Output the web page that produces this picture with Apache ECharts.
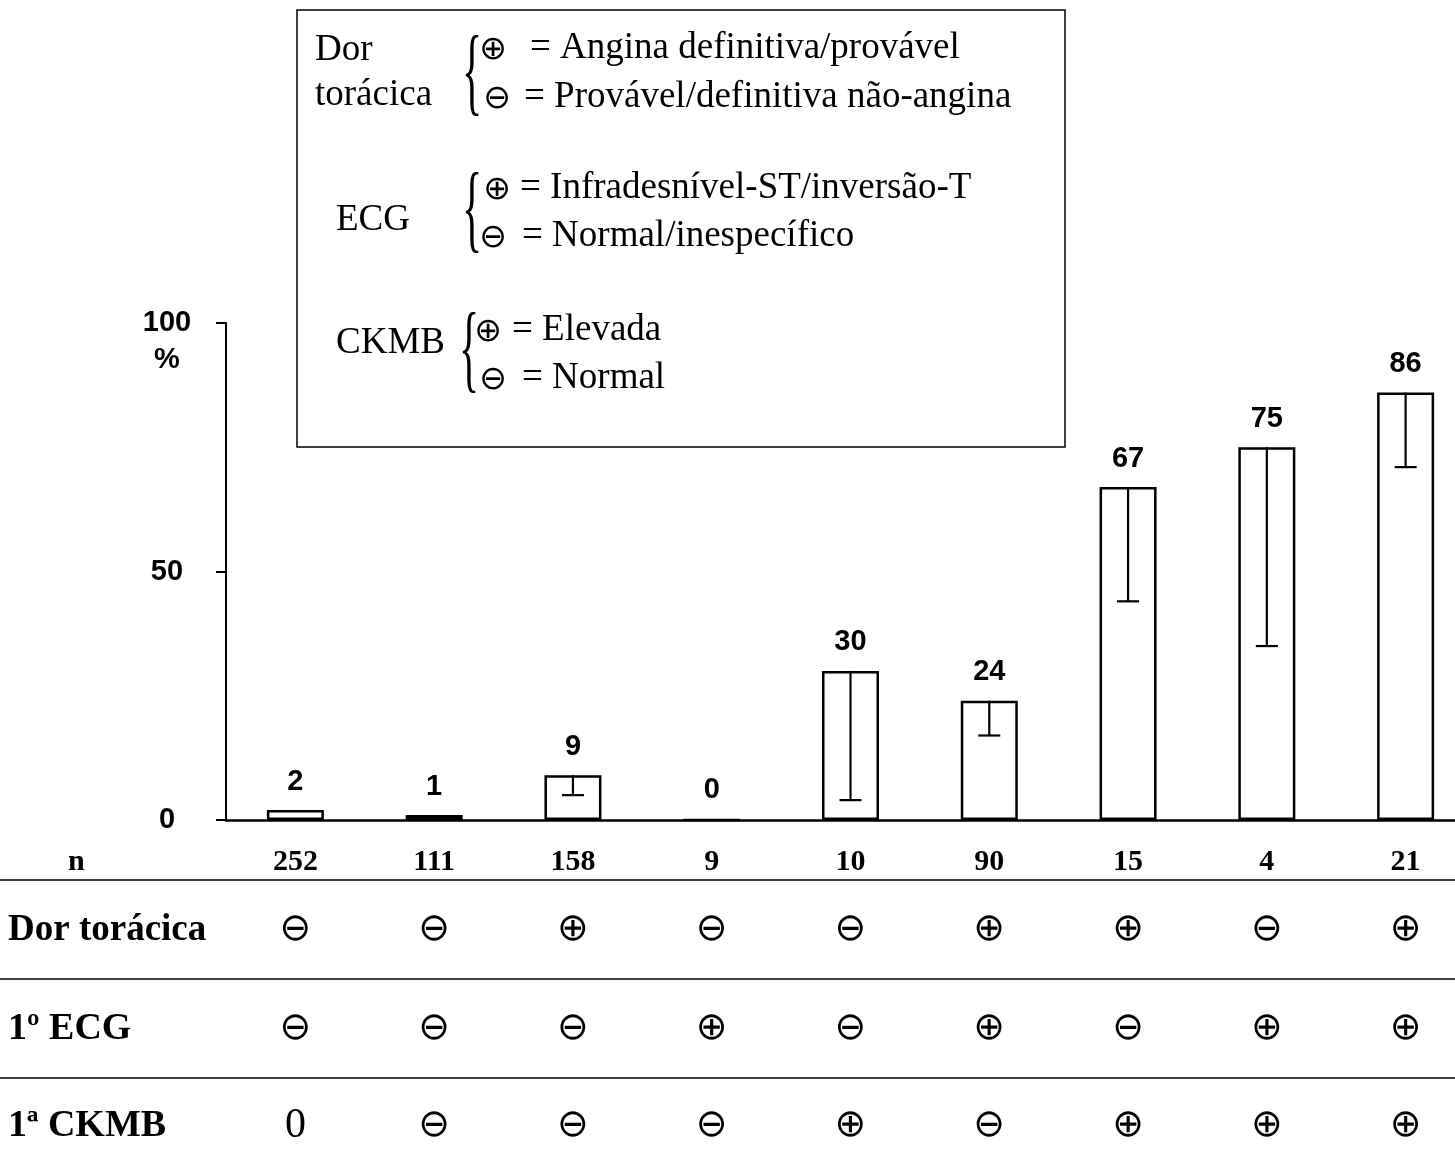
<!DOCTYPE html>
<html><head><meta charset="utf-8">
<script src="https://cdn.jsdelivr.net/npm/echarts@6/dist/echarts.min.js"></script>
<style>html,body{margin:0;padding:0;background:#fff}#c{width:1455px;height:1169px}</style>
</head><body><div id="c"></div>
<script>
// ---------- data ----------
const categories = ['G1','G2','G3','G4','G5','G6','G7','G8','G9'];
const pctValues  = [2, 1, 9, 0, 30, 24, 67, 75, 86];
const lowerBounds = [null, null, 5, null, 4, 17, 44, 35, 71];
const nValues    = ['252','111','158','9','10','90','15','4','21'];
const chestPain  = ['⊖','⊖','⊕','⊖','⊖','⊕','⊕','⊖','⊕'];
const firstECG   = ['⊖','⊖','⊖','⊕','⊖','⊕','⊖','⊕','⊕'];
const firstCKMB  = ['0','⊖','⊖','⊖','⊕','⊖','⊕','⊕','⊕'];
const rowNames   = ['n', 'Dor torácica', '1º ECG', '1ª CKMB'];
const yMin = 0, yMax = 100, yInterval = 50;
const legendNames = ['Dor', 'torácica', 'ECG', 'CKMB'];
const legendLines = [
  ['⊕', '= Angina definitiva/provável'],
  ['⊖', '= Provável/definitiva não-angina'],
  ['⊕', '= Infradesnível-ST/inversão-T'],
  ['⊖', '= Normal/inespecífico'],
  ['⊕', '= Elevada'],
  ['⊖', '= Normal']
];

// ---------- styling ----------
const SERIF = '"Liberation Serif","Times New Roman",serif';
const SANS = '"Liberation Sans",Arial,sans-serif';
const SYM = '"DejaVu Sans",sans-serif';

const chart = echarts.init(document.getElementById('c'));

function rowAxis(rowData, offset, name, nameGap, labelRich, nameSize) {
  return {
    type: 'category', gridIndex: 0, data: categories, position: 'bottom', offset: offset,
    axisLine: {show: false, onZero: false}, axisTick: {show: false}, splitLine: {show: false},
    axisLabel: {
      interval: 0, margin: 0, verticalAlign: 'middle',
      formatter: (v, i) => labelRich(rowData[i]),
      rich: {
        num: {fontFamily: SERIF, fontWeight: 'bold', fontSize: 30, color: '#000'},
        sym: {fontFamily: SYM, fontSize: 38, color: '#000'},
        zero: {fontFamily: SERIF, fontSize: 42, color: '#000'}
      }
    },
    name: name, nameLocation: 'start', nameGap: nameGap,
    nameTextStyle: {align: 'left', verticalAlign: 'middle', color: '#000',
      fontFamily: SERIF, fontWeight: 'bold', fontSize: nameSize}
  };
}

const errData = pctValues.map((v, i) => [i, v, lowerBounds[i]]).filter(d => d[2] !== null);

const graphic = [];
// legend box
graphic.push({type: 'rect', shape: {x: 297, y: 10, width: 768, height: 437},
  style: {fill: 'none', stroke: '#000', lineWidth: 1.5}, silent: true});
const legName = (t, x, y) => ({type: 'text', x: x, y: y,
  style: {text: t, fontFamily: SERIF, fontSize: 37, fill: '#000', verticalAlign: 'middle'}});
graphic.push(legName(legendNames[0], 315, 50));
graphic.push(legName(legendNames[1], 315, 95));
graphic.push(legName(legendNames[2], 336, 220));
graphic.push(legName(legendNames[3], 336, 343));
[[78, 472], [215, 472], [355, 469]].forEach(b => {
  graphic.push({type: 'text', x: b[1], y: b[0], scaleY: 2.3,
    style: {text: '{', fontFamily: SERIF, fontSize: 42, fill: '#000', verticalAlign: 'middle', align: 'center'}});
});
const lineY = [48, 97, 188, 236, 330, 378];
const symX = [493, 497, 497, 493, 488, 493];
const txtX = [530, 524, 520, 522, 512, 522];
legendLines.forEach((l, i) => {
  graphic.push({type: 'text', x: symX[i], y: lineY[i] + 2,
    style: {text: l[0], fontFamily: SYM, fontSize: 33, fill: '#000', align: 'center', verticalAlign: 'middle'}});
  graphic.push({type: 'text', x: txtX[i], y: lineY[i],
    style: {text: l[1], fontFamily: SERIF, fontSize: 37, fill: '#000', verticalAlign: 'middle'}});
});
// table separator lines
[880, 979, 1078].forEach(y => {
  graphic.push({type: 'line', shape: {x1: 0, y1: y, x2: 1455, y2: y},
    style: {stroke: '#000', lineWidth: 1.6}, silent: true});
});

chart.setOption({
  backgroundColor: '#fff',
  animation: false,
  grid: {left: 226, top: 323, width: 1249, height: 497, outerBoundsMode: 'none', containLabel: false},
  xAxis: [
    {type: 'category', data: categories, position: 'bottom',
     axisLine: {show: true, onZero: false, lineStyle: {color: '#000', width: 2.5}},
     axisTick: {show: false}, axisLabel: {show: false}, splitLine: {show: false}},
    rowAxis(nValues, 42, rowNames[0], 158, v => '{num|' + v + '}', 30),
    rowAxis(chestPain, 110, rowNames[1], 218, v => '{sym|' + v + '}', 37),
    rowAxis(firstECG, 209, rowNames[2], 218, v => '{sym|' + v + '}', 38),
    rowAxis(firstCKMB, 306, rowNames[3], 218,
      v => v === '0' ? '{zero|0}' : '{sym|' + v + '}', 38)
  ],
  yAxis: {
    type: 'value', min: yMin, max: yMax, interval: yInterval,
    axisLine: {show: true, lineStyle: {color: '#000', width: 2}},
    axisTick: {show: true, length: 10, lineStyle: {color: '#000', width: 2}},
    splitLine: {show: false},
    axisLabel: {
      margin: 32, color: '#000',
      formatter: v => v === yMax ? '{e| }\n{n|' + v + '}\n{n|%}' : '{n|' + v + '}',
      rich: {
        e: {fontSize: 29, lineHeight: 37},
        n: {fontFamily: SANS, fontWeight: 'bold', fontSize: 29, lineHeight: 37, color: '#000', align: 'center', width: 54}
      }
    }
  },
  series: [
    {type: 'bar', data: pctValues, barWidth: 57, xAxisIndex: 0,
     itemStyle: {color: '#fff', borderColor: '#000', borderWidth: 2.5},
     label: {show: true, position: 'top', distance: 14, fontFamily: SANS, fontWeight: 'bold',
       fontSize: 29, color: '#000'}},
    {type: 'custom', xAxisIndex: 0, z: 5, data: errData,
     renderItem: (params, api) => {
       const top = api.coord([api.value(0), api.value(1)]);
       const low = api.coord([api.value(0), api.value(2)]);
       const st = {stroke: '#000', lineWidth: 2.2};
       return {type: 'group', children: [
         {type: 'line', shape: {x1: top[0], y1: top[1], x2: low[0], y2: low[1]}, style: st},
         {type: 'line', shape: {x1: low[0] - 11, y1: low[1], x2: low[0] + 11, y2: low[1]}, style: st}
       ]};
     }}
  ],
  graphic: graphic
});
</script></body></html>
